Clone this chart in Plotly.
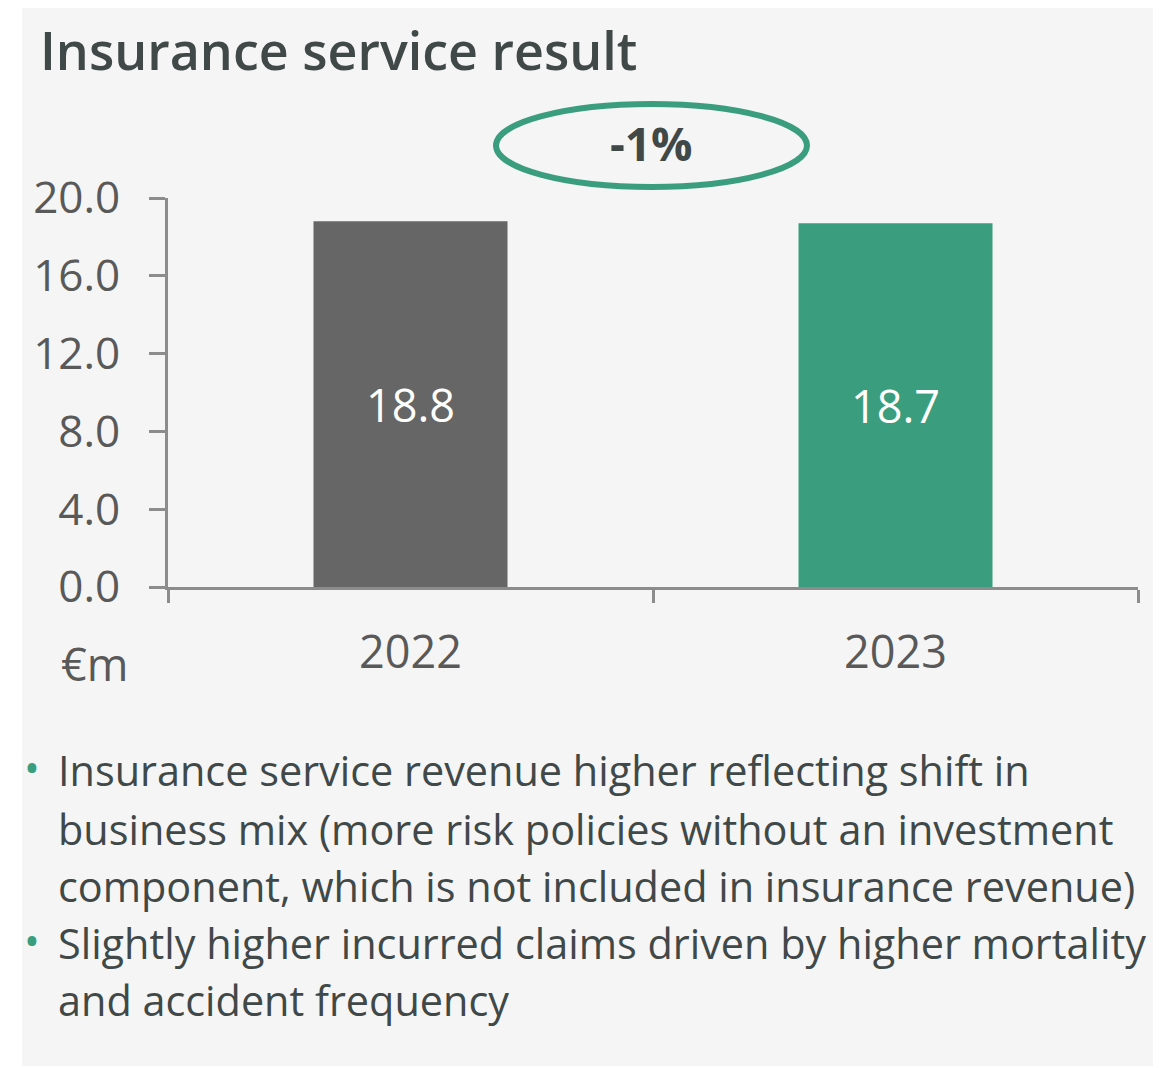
import plotly.graph_objects as go

years = ['2022', '2023']
values = [18.8, 18.7]
bar_colors = ['#666666', '#3a9e7e']
y_ticks = [0, 4, 8, 12, 16, 20]
change_label = '-1%'
unit_label = '€m'
title_text = 'Insurance service result'
bullet_lines = [
    ['Insurance service revenue higher reflecting shift in',
     'business mix (more risk policies without an investment',
     'component, which is not included in insurance revenue)'],
    ['Slightly higher incurred claims driven by higher mortality',
     'and accident frequency'],
]

OFF = 8  # page body margin
W, H = 1161 - OFF, 1068 - OFF
PL, PR, PT, PB = 168, 1138, 198, 587  # plot area in window pixels
FONT = 'Open Sans'
TEXT = '#404848'
GREEN = '#3a9e7e'


def px(x):
    return (x - PL) / (PR - PL)


def py(y):
    return (PB - y) / (PB - PT)


fig = go.Figure()
fig.add_trace(go.Bar(
    x=years, y=values, width=0.4,
    marker=dict(color=bar_colors, line=dict(width=0)),
    text=[f'{v:.1f}' for v in values], textposition='inside',
    insidetextanchor='middle',
    textfont=dict(family=FONT, size=45, color='white'),
    hoverinfo='skip',
))

shapes = [
    # light grey panel
    dict(type='rect', xref='paper', yref='paper', layer='below',
         x0=px(22), x1=px(1175), y0=py(1066), y1=py(7),
         fillcolor='#f5f5f5', line=dict(width=0)),
    # ellipse around change label
    dict(type='circle', xref='paper', yref='paper',
         x0=px(496), x1=px(807), y0=py(187), y1=py(104),
         line=dict(color=GREEN, width=6)),
]

annotations = [
    dict(text=title_text, x=px(38), y=py(49), xanchor='left', yanchor='middle',
         font=dict(family=FONT, size=52, color=TEXT, weight=600)),
    dict(text=change_label, x=px(651), y=py(143), xanchor='center', yanchor='middle',
         font=dict(family=FONT, size=46, color=TEXT, weight=700)),
    dict(text=unit_label, x=px(94), y=py(663), xanchor='center', yanchor='middle',
         font=dict(family=FONT, size=45, color='#595959')),
]

line_y = [770, 829, 886, 943, 1000]
i = 0
for para in bullet_lines:
    annotations.append(dict(text='•', x=px(22), y=py(line_y[i] - 4), xanchor='left',
                            yanchor='middle', font=dict(family=FONT, size=42, color=GREEN)))
    for line in para:
        annotations.append(dict(text=line, x=px(56), y=py(line_y[i]), xanchor='left',
                                yanchor='middle', font=dict(family=FONT, size=41.4, color=TEXT)))
        i += 1

for a in annotations:
    a.update(xref='paper', yref='paper', showarrow=False)

fig.update_layout(
    width=W, height=H,
    margin=dict(l=PL - OFF, r=W + OFF - PR, t=PT - OFF, b=H + OFF - PB, pad=0),
    paper_bgcolor='white', plot_bgcolor='rgba(0,0,0,0)',
    showlegend=False, bargap=0.6,
    shapes=shapes, annotations=annotations,
)
fig.update_xaxes(
    type='category', showgrid=False, showline=True, linecolor='#8c8c8c', linewidth=3,
    ticks='outside', tickson='boundaries', ticklen=13, tickwidth=3, tickcolor='#8c8c8c',
    tickfont=dict(family=FONT, size=45, color='#595959'), ticklabelstandoff=24,
)
fig.update_yaxes(
    range=[0, 20], tickvals=y_ticks, tickformat='.1f', showgrid=False, zeroline=False,
    showline=True, linecolor='#8c8c8c', linewidth=3,
    ticks='outside', ticklen=16, tickwidth=3, tickcolor='#8c8c8c',
    tickfont=dict(family=FONT, size=44, color='#595959'), ticklabelstandoff=20,
)

fig.write_html('out.html')
